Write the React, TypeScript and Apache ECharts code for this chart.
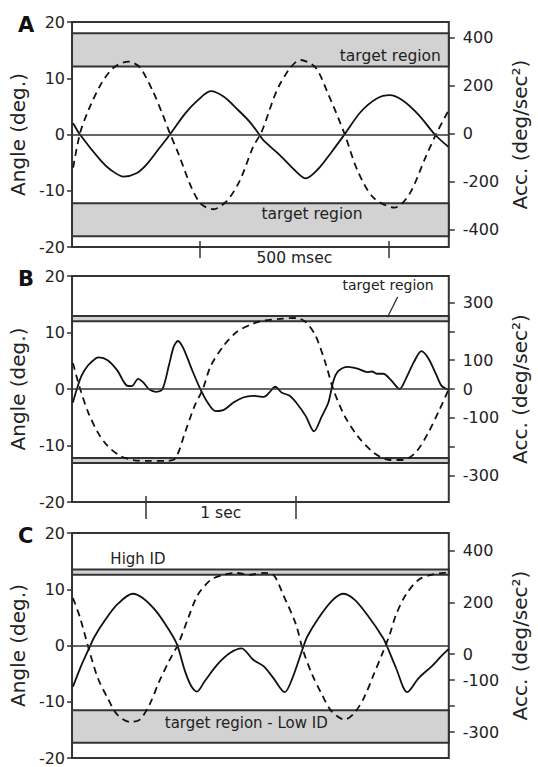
import React, { useEffect, useRef } from "react";
import * as echarts from "echarts";

// ---------- Panel A (x: msec) ----------
const aTime = [3, 21, 77, 103, 137, 171, 197, 231, 260, 300, 334, 368, 403, 437, 471, 497, 509, 552, 595, 620, 655, 689, 723, 766, 809, 843, 877, 920, 963, 999];
const aAngle = [2.0, 0, -4.7, -6.3, -7.5, -6.9, -5.4, -2.5, 0, 3.7, 6.1, 7.7, 6.7, 4.6, 2.3, 0, -1.1, -3.7, -6.6, -7.8, -6.0, -3.1, 0, 4.0, 6.4, 7.0, 6.1, 3.5, 0, -2.2];
const aAccTime = [3, 21, 43, 77, 111, 150, 180, 214, 240, 260, 283, 317, 343, 375, 411, 445, 480, 501, 509, 552, 607, 646, 680, 723, 758, 800, 856, 895, 938, 967, 999];
const aAcc = [-142, 0, 95, 206, 275, 299, 275, 178, 81, 0, -86, -225, -294, -315, -280, -197, -58, 0, 30, 206, 306, 275, 164, 0, -155, -267, -308, -253, -100, 0, 95];
const aBands = [[12.1, 18.0], [-18.1, -12.2]];
const aAccTicks = [-400, -200, 0, 200, 400];
const aAccLabels = [-400, -200, 0, 200, 400];
const aBarTicks = [339, 841];
const aBarLabel = "500 msec";

// ---------- Panel B (x: msec) ----------
const bTime = [6, 32, 64, 107, 161, 180, 236, 300, 364, 396, 439, 471, 514, 557, 600, 643, 675, 703, 739, 793, 846, 900, 953, 1007, 1071, 1135, 1200, 1273, 1310, 1348, 1390, 1444, 1487, 1551, 1605, 1658, 1701, 1733, 1765, 1830, 1894, 1958, 1990, 2022, 2065, 2119, 2173, 2215, 2269, 2318, 2365, 2419, 2451, 2483, 2500];
const bAngle = [-2.4, 0, 2.4, 4.2, 5.5, 5.6, 5.1, 3.3, 0.6, 0.5, 1.8, 1.2, -0.1, -0.5, 0, 4.2, 7.5, 8.5, 7.2, 3.6, 0.3, -2.4, -3.9, -3.7, -2.4, -1.5, -1.2, -1.4, -0.6, 0.4, -0.6, -1.2, -2.4, -4.8, -7.5, -4.8, -2.4, 1.3, 3.1, 3.9, 3.6, 3.0, 3.1, 2.7, 2.7, 1.5, 0, 1.8, 4.8, 6.7, 5.4, 2.4, 0.6, 0, -0.1];
const bAccTime = [6, 54, 107, 171, 236, 321, 407, 514, 621, 685, 750, 814, 868, 921, 1007, 1092, 1200, 1273, 1380, 1487, 1551, 1615, 1680, 1733, 1808, 1894, 2001, 2108, 2194, 2280, 2365, 2440, 2500];
const bAcc = [90, 0, -81, -151, -198, -233, -247, -250, -250, -242, -151, -58, 0, 81, 151, 198, 227, 238, 244, 247, 233, 186, 93, 0, -93, -163, -221, -247, -247, -221, -151, -70, 0];
const bBands = [[12.0, 12.9], [-13.1, -12.2]];
const bAccTicks = [-300, -200, -100, 0, 100, 200, 300];
const bAccLabels = [-300, -100, 0, 100, 300];
const bBarTicks = [487, 1487];
const bBarLabel = "1 sec";

// ---------- Panel C (x: msec) ----------
const cTime = [5, 51, 89, 120, 171, 240, 322, 377, 446, 514, 557, 600, 634, 663, 703, 771, 840, 900, 960, 1018, 1069, 1129, 1170, 1224, 1249, 1309, 1378, 1438, 1498, 1566, 1652, 1678, 1720, 1780, 1840, 1909, 1960, 2000];
const cAngle = [-7.3, -3.4, -0.6, 1.6, 4.3, 7.3, 9.2, 8.4, 6.1, 2.8, 0.2, -4.6, -7.3, -8.2, -6.4, -3.4, -1.3, -0.5, -2.5, -3.7, -5.8, -8.3, -5.8, -0.6, 1.6, 4.9, 7.9, 9.2, 8.2, 5.5, 1.3, -0.6, -4.0, -8.3, -5.8, -3.7, -1.9, -0.6];
const cAccTime = [5, 43, 89, 137, 189, 240, 309, 360, 411, 463, 514, 566, 617, 668, 737, 806, 874, 943, 1018, 1069, 1121, 1189, 1224, 1275, 1327, 1378, 1447, 1498, 1549, 1601, 1652, 1686, 1720, 1772, 1840, 1909, 1977, 2000];
const cAcc = [216, 140, 20, -92, -169, -233, -261, -252, -195, -105, -28, 43, 140, 229, 287, 306, 313, 306, 313, 306, 229, 114, 20, -79, -156, -220, -252, -227, -169, -79, 11, 75, 152, 229, 287, 306, 313, 313];
const cBands = [[12.6, 13.5], [-17.3, -11.5]];
const cAccTicks = [-300, -200, -100, 0, 200, 400];
const cAccLabels = [-300, -100, 0, 200, 400];

const panelLetters = ["A", "B", "C"];
const angleName = "Angle (deg.)";
const accName = "Acc. (deg/sec\u00B2)";

const FONT = "DejaVu Sans";
const INK = "#222";
const LINE = "#333";

function zip(t: number[], v: number[]) {
  return t.map((x, i) => [x, v[i]]);
}

export default function App() {
  const ref = useRef<HTMLDivElement>(null);

  useEffect(() => {
    const chart = echarts.init(ref.current!, null, { renderer: "svg" });

    const panels = [
      {
        top: 22, height: 225, xMax: 1000, accMin: -472, accMax: 464,
        angle: zip(aTime, aAngle), acc: zip(aAccTime, aAcc), bands: aBands,
        accTicks: aAccTicks, accLabels: aAccLabels,
        bar: aBarTicks, barLabel: aBarLabel, barOut: 11,
        labels: [
          { coord: [979, 14.0], text: "target region", align: "right", size: 15.5 },
          { coord: [637, -14.1], text: "target region", align: "center", size: 15.5 },
        ],
        leaders: [] as number[][][],
      },
      {
        top: 276, height: 226, xMax: 2500, accMin: -393, accMax: 393,
        angle: zip(bTime, bAngle), acc: zip(bAccTime, bAcc), bands: bBands,
        accTicks: bAccTicks, accLabels: bAccLabels,
        bar: bBarTicks, barLabel: bBarLabel, barOut: 17,
        labels: [{ coord: [2097, 18.4], text: "target region", align: "center", size: 14 }],
        leaders: [[[2161, 16.3], [2093, 12.7]]],
      },
      {
        top: 533, height: 225, xMax: 2000, accMin: -400, accMax: 467,
        angle: zip(cTime, cAngle), acc: zip(cAccTime, cAcc), bands: cBands,
        accTicks: cAccTicks, accLabels: cAccLabels,
        bar: null as number[] | null, barLabel: "", barOut: 0,
        labels: [
          { coord: [350, 15.4], text: "High ID", align: "center", size: 15 },
          { coord: [925, -13.7], text: "target region - Low ID", align: "center", size: 15 },
        ],
        leaders: [] as number[][][],
      },
    ];

    const grid: any[] = [];
    const xAxis: any[] = [];
    const yAxis: any[] = [];
    const series: any[] = [];
    const title: any[] = [];

    panels.forEach((p, i) => {
      grid.push({
        left: 70, right: 79, top: p.top, height: p.height,
        show: true, borderColor: LINE, borderWidth: 2, backgroundColor: "transparent",
      });
      title.push({
        text: panelLetters[i], left: 13, top: p.top - 13,
        textStyle: { fontSize: 21, fontWeight: "bold", color: "#111", fontFamily: FONT },
      });
      const hasBar = !!p.bar;
      const mid = hasBar ? (p.bar![0] + p.bar![1]) / 2 : 0;
      // inner ticks of the scale bar
      xAxis.push({
        gridIndex: i, type: "value", position: "bottom", min: 0, max: p.xMax,
        axisLine: { show: false, onZero: false },
        axisTick: { show: hasBar, inside: true, length: 6, customValues: p.bar || [], lineStyle: { color: LINE, width: 1.5 } },
        axisLabel: { show: false }, splitLine: { show: false },
      });
      // outer ticks + label of the scale bar
      xAxis.push({
        gridIndex: i, type: "value", position: "bottom", min: 0, max: p.xMax, show: hasBar,
        axisLine: { show: false, onZero: false },
        axisTick: { show: hasBar, inside: false, length: p.barOut, customValues: p.bar || [], lineStyle: { color: LINE, width: 1.5 } },
        axisLabel: {
          show: hasBar, customValues: hasBar ? [mid] : [], formatter: () => p.barLabel,
          margin: 3, fontSize: 15.5, color: INK, fontFamily: FONT,
        },
        splitLine: { show: false },
      });
      yAxis.push({
        gridIndex: i, type: "value", position: "left", min: -20, max: 20, interval: 10,
        axisLine: { show: false, onZero: false },
        axisTick: { show: true, length: 5, lineStyle: { color: LINE, width: 1.5 } },
        axisLabel: { fontSize: 16, color: INK, margin: 7, fontFamily: FONT },
        splitLine: { show: false },
        name: angleName, nameLocation: "middle", nameGap: 34, nameRotate: 90,
        nameTextStyle: { fontSize: 20, color: INK, fontFamily: FONT },
      });
      yAxis.push({
        gridIndex: i, type: "value", position: "right", min: p.accMin, max: p.accMax,
        axisLine: { show: false, onZero: false },
        axisTick: { show: true, length: 6, customValues: p.accTicks, lineStyle: { color: LINE, width: 1.5 } },
        axisLabel: { customValues: p.accLabels, fontSize: 16, color: INK, margin: 14, fontFamily: FONT },
        splitLine: { show: false },
        name: accName, nameLocation: "middle", nameGap: 60, nameRotate: 90,
        nameTextStyle: { fontSize: 20, color: INK, fontFamily: FONT },
      });

      const xi = i * 2;
      const markLineData: any[] = [{ yAxis: 0, lineStyle: { color: LINE, width: 1.5, type: "solid" } }];
      p.leaders.forEach((l) => {
        markLineData.push([
          { coord: l[0], lineStyle: { color: LINE, width: 1.3, type: "solid" } },
          { coord: l[1] },
        ]);
      });

      series.push({
        type: "line", xAxisIndex: xi, yAxisIndex: i * 2, data: p.angle,
        showSymbol: false, symbol: "none", smooth: 0.3, z: 3,
        lineStyle: { color: "#111", width: 1.8 },
        markArea: {
          silent: true,
          itemStyle: { color: "#d2d2d2", borderColor: LINE, borderWidth: 2 },
          data: p.bands.map(([lo, hi]) => [{ yAxis: lo }, { yAxis: hi }]),
        },
        markLine: {
          silent: true, symbol: ["none", "none"], label: { show: false },
          data: markLineData,
        },
        markPoint: {
          silent: true,
          data: p.labels.map((l) => ({
            coord: l.coord, symbol: "circle", symbolSize: 0,
            itemStyle: { color: "transparent" },
            label: {
              show: true, position: "inside", formatter: l.text, align: l.align,
              fontSize: l.size, color: INK, fontFamily: FONT,
            },
          })),
        },
      });
      series.push({
        type: "line", xAxisIndex: xi, yAxisIndex: i * 2 + 1, data: p.acc,
        showSymbol: false, symbol: "none", smooth: 0.3, z: 3,
        lineStyle: { color: "#111", width: 1.8, type: [7, 5] },
      });
    });

    chart.setOption({
      animation: false,
      backgroundColor: "#fff",
      textStyle: { fontFamily: FONT },
      title, grid, xAxis, yAxis, series,
    });

    return () => chart.dispose();
  }, []);

  return (
    <div
      ref={ref}
      style={{ position: "fixed", left: 0, top: 0, width: 538, height: 767, background: "#fff" }}
    />
  );
}
